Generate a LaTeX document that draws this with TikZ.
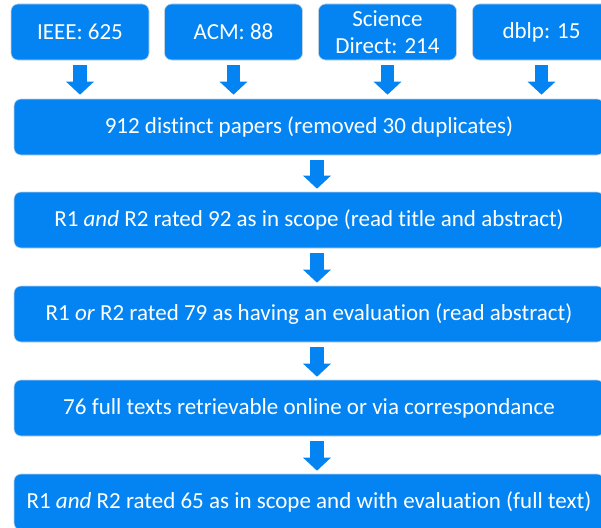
\documentclass[tikz,border=0pt]{standalone}
\usepackage{fontspec}
\setmainfont{Carlito}[Ligatures=NoCommon]
\usetikzlibrary{arrows.meta}
\definecolor{boxblue}{RGB}{3,132,242}
\definecolor{edgegray}{RGB}{190,210,230}
\tikzset{
  srcbox/.style={draw=edgegray, line width=0.6pt, fill=boxblue, rounded corners=7pt,
    minimum width=138pt, minimum height=56pt, inner sep=0pt, align=center,
    text=white, font=\fontsize{23}{27}\selectfont},
  stagebox/.style={srcbox, minimum width=590pt},
  flow/.style={draw=boxblue, line width=13.5pt,
    -{Triangle[width=27pt,length=13pt]}}
}
\begin{document}
\begin{tikzpicture}[x=1pt,y=-1pt]
\useasboundingbox (0,0) rectangle (601,527);
\clip (0,0) rectangle (601,527);
\node[srcbox] (ieee) at (80,32) {IEEE: 625};
\node[srcbox] (acm) at (233.5,32) {ACM: 88};
\node[srcbox] (sd) at (387.5,32) {Science\\Direct: 214};
\node[srcbox] (dblp) at (541.5,32) {dblp: 15};
\node[stagebox] (b1) at (309,127) {912 distinct papers (removed 30 duplicates)};
\node[stagebox] (b2) at (309,220) {R1 \textit{and} R2 rated 92 as in scope (read title and abstract)};
\node[stagebox] (b3) at (309,314) {R1 \textit{or} R2 rated 79 as having an evaluation (read abstract)};
\node[stagebox] (b4) at (309,408) {76 full texts retrievable online or via correspondance};
\node[stagebox] (b5) at (309,502) {R1 \textit{and} R2 rated 65 as in scope and with evaluation (full text)};
\foreach \s in {ieee,acm,sd,dblp}
  \draw[flow, shorten <=5pt, shorten >=4pt] (\s.south) -- (\s.south |- b1.north);
\draw[flow, shorten <=5pt, shorten >=3pt] (b1.south -| 317,0) -- (b2.north -| 317,0);
\draw[flow, shorten <=5pt, shorten >=3pt] (b2.south -| 317,0) -- (b3.north -| 317,0);
\draw[flow, shorten <=5pt, shorten >=3pt] (b3.south -| 317,0) -- (b4.north -| 317,0);
\draw[flow, shorten <=5pt, shorten >=3pt] (b4.south -| 317,0) -- (b5.north -| 317,0);
\end{tikzpicture}
\end{document}
